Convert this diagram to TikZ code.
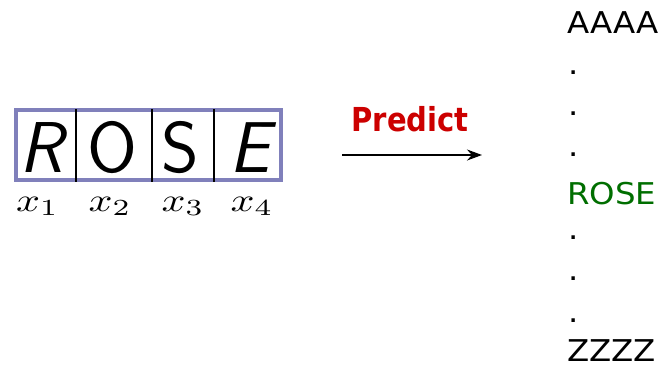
\documentclass[tikz,border=0pt]{standalone}
\usepackage{fontspec}
\usetikzlibrary{arrows.meta}
\newfontfamily\dejavu{DejaVu Sans}
\definecolor{boxblue}{RGB}{128,128,187}
\definecolor{predred}{RGB}{204,0,0}
\definecolor{rosegreen}{RGB}{0,110,0}

\begin{document}
\begin{tikzpicture}[
  x=1pt, y=-1pt,
  wordbox/.style={draw=boxblue, line width=3.5pt, inner sep=0pt, minimum width=265pt, minimum height=70pt},
  letter/.style={anchor=base, inner sep=0pt, font=\sffamily\fontsize{72}{80}\selectfont},
  lbl/.style={anchor=base, inner sep=0pt, xscale=4.2, yscale=3.3, transform shape},
  word/.style={anchor=base west, inner sep=0pt, xscale=1.08, transform shape, font=\dejavu\fontsize{30}{36}\selectfont},
  predarrow/.style={line width=1.3pt, -{Stealth[length=15pt,width=11pt]}}
]
  \useasboundingbox (0,0) rectangle (662,367);

  % Casilla con la palabra
  \node[wordbox] (box) at (148.5,145) {};
  \foreach \xx in {76,152,214} {
    \draw[line width=1.2pt] (\xx,109) -- (\xx,182);
  }
  \node[letter] (l1) at (41,172) {\slshape R};
  \node[letter] (l2) at (112,172) {O};
  \node[letter] (l3) at (180,172) {S};
  \node[letter] (l4) at (250,172) {\slshape E};

  % Etiquetas x_i
  \foreach \i/\xx in {1/37.5,2/110,3/183,4/252} {
    \node[lbl] (x\i) at (\xx,211) {$x_{\i}$};
  }

  % Flecha de prediccion
  \node[anchor=base, inner sep=0pt, xscale=0.88, transform shape, text=predred,
        font=\dejavu\bfseries\fontsize{33}{36}\selectfont] (pred) at (410,131) {Predict};
  \coordinate (arrowstart) at (342,155);
  \coordinate (arrowend) at (482,155);
  \draw[predarrow] (arrowstart) -- (arrowend);

  % Lista de palabras
  \node[word] (first) at (567,33) {AAAA};
  \foreach \i/\yy in {1/74,2/115,3/156,4/239,5/280,6/322} {
    \node[word] (dot\i) at (568,\yy) {.};
  }
  \node[word, text=rosegreen] (rose) at (567,204) {ROSE};
  \node[word] (last) at (567,361) {ZZZZ};
\end{tikzpicture}
\end{document}
